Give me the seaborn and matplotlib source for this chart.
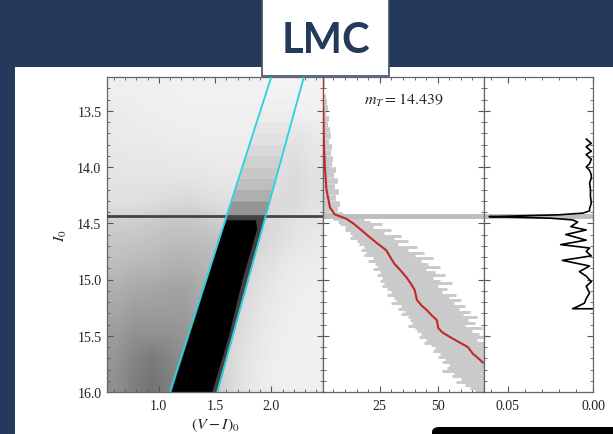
import numpy as np
import seaborn as sns
import matplotlib.pyplot as plt
from matplotlib.patches import Rectangle, FancyBboxPatch
from matplotlib.ticker import MultipleLocator, FormatStrFormatter

# TRGB value
m_trgb = 14.439

# CMD background field: grey level (0 white .. 1 black), rows = I0 bins 13.2..16.0 (0.2), cols = colour bins 0.54..2.46 (0.16)
field_dark = [
    [0.13, 0.13, 0.12, 0.12, 0.11, 0.11, 0.11, 0.11, 0.11, 0.10, 0.10, 0.10],
    [0.15, 0.14, 0.13, 0.13, 0.12, 0.12, 0.12, 0.12, 0.12, 0.12, 0.12, 0.12],
    [0.16, 0.15, 0.15, 0.14, 0.14, 0.13, 0.13, 0.13, 0.15, 0.16, 0.18, 0.16],
    [0.17, 0.17, 0.17, 0.16, 0.16, 0.15, 0.15, 0.15, 0.17, 0.20, 0.22, 0.18],
    [0.19, 0.19, 0.19, 0.19, 0.19, 0.18, 0.17, 0.17, 0.20, 0.22, 0.24, 0.20],
    [0.21, 0.21, 0.22, 0.24, 0.25, 0.23, 0.21, 0.21, 0.22, 0.24, 0.24, 0.20],
    [0.30, 0.30, 0.32, 0.34, 0.34, 0.32, 0.30, 0.28, 0.26, 0.24, 0.20, 0.18],
    [0.34, 0.35, 0.36, 0.38, 0.38, 0.38, 0.36, 0.30, 0.26, 0.22, 0.18, 0.16],
    [0.38, 0.40, 0.40, 0.42, 0.42, 0.40, 0.36, 0.28, 0.22, 0.18, 0.15, 0.14],
    [0.42, 0.44, 0.45, 0.46, 0.46, 0.42, 0.34, 0.26, 0.20, 0.16, 0.14, 0.13],
    [0.45, 0.48, 0.48, 0.48, 0.48, 0.42, 0.32, 0.24, 0.18, 0.15, 0.13, 0.12],
    [0.48, 0.52, 0.52, 0.52, 0.50, 0.40, 0.30, 0.22, 0.17, 0.14, 0.12, 0.12],
    [0.50, 0.56, 0.60, 0.56, 0.52, 0.40, 0.28, 0.20, 0.16, 0.13, 0.12, 0.12],
    [0.52, 0.58, 0.62, 0.58, 0.52, 0.40, 0.28, 0.20, 0.15, 0.13, 0.12, 0.12],
]

# selection box (cyan lines)
cyan_mag = [13.2, 16.0]
cyan_blue = [2.00, 1.10]
cyan_red = [2.29, 1.52]

# stars inside the box above the tip
strip_edges = [13.2, 13.3, 13.4, 13.5, 13.6, 13.7, 13.8, 13.9, 14.0, 14.1, 14.2, 14.3, 14.44]
strip_dark = [0.10, 0.11, 0.13, 0.15, 0.18, 0.21, 0.25, 0.29, 0.33, 0.37, 0.42, 0.50]
below_dark = 0.80

# saturated RGB
band_mag = [14.47, 14.55, 15.0, 15.5, 16.0]
band_blue = [1.60, 1.57, 1.43, 1.27, 1.11]
band_red = [1.86, 1.87, 1.74, 1.62, 1.47]

# luminosity function: noisy bins (grey) and smoothed (red)
gray_mag_top = np.round(np.arange(13.225, 14.43, 0.05), 3)
gray_lo_top = [0] * 24 + [1]
gray_hi_top = [1.2, 1.5, 1.0, 1.8, 2.2, 2.5, 2.0, 3.0, 2.6, 3.4, 4.0, 3.2, 4.6, 3.8, 5.0, 4.4,
               6.0, 5.2, 6.8, 5.6, 7.4, 6.2, 8.0, 7.0, 9.0]
gray_mag_low = np.round(np.arange(14.46, 16.0, 0.025), 3)
gray_lo_low = [5, 7, 8, 10, 10, 12, 13, 12, 15, 16, 18, 17, 19, 18, 22, 20, 23, 24, 22, 25,
               24, 26, 25, 27, 26, 28, 30, 28, 31, 32, 30, 34, 33, 36, 34, 37, 38, 39, 37, 40,
               41, 43, 42, 45, 44, 47, 49, 48, 51, 50, 53, 52, 55, 54, 52, 57, 56, 60, 58, 62,
               64, 66]
gray_hi_low = [18, 21, 26, 22, 30, 27, 34, 31, 37, 33, 41, 37, 44, 40, 48, 43, 46, 51, 45, 49,
               53, 48, 51, 56, 50, 54, 52, 58, 55, 60, 57, 62, 59, 64, 61, 67, 63, 66, 62, 69,
               65, 68, 70, 67, 70, 70, 70, 70, 70, 70, 70, 70, 70, 70, 70, 70, 70, 70, 70, 70,
               70, 70]
lf_mag = [13.20, 13.40, 13.60, 13.80, 14.00, 14.20, 14.36, 14.42, 14.46, 14.50, 14.56, 14.62,
          14.68, 14.74, 14.80, 14.86, 14.92, 14.98, 15.04, 15.09, 15.14, 15.18, 15.23, 15.27,
          15.32, 15.36, 15.40, 15.43, 15.47, 15.51, 15.56, 15.60, 15.66, 15.70, 15.74]
lf_count = [0.4, 0.5, 0.7, 0.9, 1.3, 2.0, 3.5, 5.5, 10.5, 13.5, 17.0, 20.4, 24.0, 27.8, 29.5,
            31.3, 34.0, 36.5, 38.5, 40.0, 40.6, 41.0, 43.0, 45.2, 47.5, 49.6, 50.0, 50.2, 52.0,
            55.2, 59.5, 63.0, 65.2, 67.5, 69.6]

# edge detector response
edge_mag = [13.75, 13.79, 13.82, 13.86, 13.89, 13.93, 13.97, 14.00, 14.03, 14.07, 14.10, 14.14,
            14.20, 14.26, 14.32, 14.37, 14.39, 14.41, 14.425, 14.435, 14.441, 14.447, 14.455,
            14.47, 14.49, 14.53, 14.56, 14.60, 14.65, 14.69, 14.72, 14.75, 14.79, 14.83, 14.88,
            14.93, 14.97, 15.02, 15.06, 15.12, 15.17, 15.21, 15.24, 15.26, 15.26]
edge_resp = [0.004, 0.001, 0.004, 0.001, 0.004, 0.001, 0.002, 0.004, 0.002, 0.001, 0.001, 0.002,
             0.0015, 0.0015, 0.001, 0.002, 0.002, 0.006, 0.020, 0.045, 0.061, 0.045, 0.025,
             0.012, 0.009, 0.013, 0.004, 0.016, 0.004, 0.019, 0.002, 0.004, 0.001, 0.018, 0.002,
             0.008, 0.004, 0.001, 0.004, 0.002, 0.004, 0.005, 0.009, 0.012, 0.0]

navy = '#253a5a'
cyan = '#27d4dd'

sns.set_style('ticks')
plt.rcParams['font.family'] = ['Liberation Serif', 'DejaVu Serif']
plt.rcParams['mathtext.fontset'] = 'stix'

fig = plt.figure(figsize=(6.13, 4.35), dpi=100, facecolor=navy)
W, H = 613, 435

# white slide area
fig.add_artist(Rectangle((15 / W, 0), 1, (H - 68) / H, transform=fig.transFigure,
                         facecolor='white', edgecolor='none', zorder=-1))

bottom = 1 - 393 / H
height = 315 / H
ax1 = fig.add_axes([107 / W, bottom, 216 / W, height])
ax2 = fig.add_axes([323 / W, bottom, 161 / W, height])
ax3 = fig.add_axes([484 / W, bottom, 109 / W, height])

# --- CMD ---
ax1.imshow(field_dark, extent=(0.54, 2.46, 16.0, 13.2), cmap='Greys', vmin=0, vmax=1,
           interpolation='bilinear', aspect='auto', zorder=0)
for i in range(len(strip_dark)):
    m = [strip_edges[i], strip_edges[i + 1]]
    ax1.fill_betweenx(m, np.interp(m, cyan_mag, cyan_blue), np.interp(m, cyan_mag, cyan_red),
                      color=plt.cm.Greys(strip_dark[i]), lw=0, zorder=1)
m = [m_trgb, 16.0]
ax1.fill_betweenx(m, np.interp(m, cyan_mag, cyan_blue), np.interp(m, cyan_mag, cyan_red),
                  color=plt.cm.Greys(below_dark), lw=0, zorder=1)
ax1.fill_betweenx(band_mag, band_blue, band_red, color='black', lw=0, zorder=2)
ax1.axhline(m_trgb, color='#444444', lw=2, zorder=3)
sns.lineplot(x=cyan_blue, y=cyan_mag, color=cyan, lw=1.3, sort=False, estimator=None, ax=ax1, zorder=4)
sns.lineplot(x=cyan_red, y=cyan_mag, color=cyan, lw=1.3, sort=False, estimator=None, ax=ax1, zorder=4)
ax1.set_xlim(0.54, 2.46)
ax1.set_ylim(16.0, 13.2)
ax1.xaxis.set_major_locator(MultipleLocator(0.5))
ax1.xaxis.set_minor_locator(MultipleLocator(0.1))
ax1.xaxis.set_major_formatter(FormatStrFormatter('%.1f'))
ax1.set_xlabel(r'$(V-I)_0$', fontsize=11.5, labelpad=3)
ax1.set_ylabel(r'$I_0$', fontsize=11.5, labelpad=6)

# --- luminosity function ---
ax2.hlines(gray_mag_top, gray_lo_top, gray_hi_top, color='#c9c9c9', lw=4, zorder=1)
ax2.hlines(gray_mag_low, gray_lo_low, gray_hi_low, color='#c9c9c9', lw=2.1, zorder=1)
ax2.axhline(m_trgb, color='#bdbdbd', lw=3.5, zorder=2)
sns.lineplot(x=lf_count, y=lf_mag, color='#c0282d', lw=1.5, sort=False, estimator=None, ax=ax2, zorder=3)
ax2.set_xlim(0.5, 70)
ax2.set_ylim(16.0, 13.2)
ax2.xaxis.set_major_locator(MultipleLocator(25))
ax2.xaxis.set_minor_locator(MultipleLocator(5))
ax2.text(0.5, 0.93, r'$m_T = 14.439$', transform=ax2.transAxes, ha='center', va='center',
         fontsize=11.5)

# --- edge detector ---
ax3.axhline(m_trgb, color='#bdbdbd', lw=3.5, zorder=1)
sns.lineplot(x=edge_resp, y=edge_mag, color='black', lw=1.2, sort=False, estimator=None, ax=ax3, zorder=2)
ax3.set_xlim(0.064, 0.0)
ax3.set_ylim(16.0, 13.2)
ax3.xaxis.set_major_locator(MultipleLocator(0.05))
ax3.xaxis.set_minor_locator(MultipleLocator(0.01))
ax3.xaxis.set_major_formatter(FormatStrFormatter('%.2f'))

for ax in (ax1, ax2, ax3):
    ax.set_facecolor('white')
    ax.yaxis.set_major_locator(MultipleLocator(0.5))
    ax.yaxis.set_minor_locator(MultipleLocator(0.1))
    ax.tick_params(which='both', direction='in', top=True, right=True, color='#555555',
                   labelsize=10, labelcolor='#222222')
    ax.tick_params(which='major', length=4, width=0.8)
    ax.tick_params(which='minor', length=2, width=0.6)
    ax.tick_params(axis='x', pad=5)
    ax.tick_params(axis='y', pad=4)
    for s in ax.spines.values():
        s.set_color('#666666')
        s.set_linewidth(0.9)
for ax in (ax2, ax3):
    ax.tick_params(labelleft=False)
    ax.set_ylabel('')
    ax.set_xlabel('')

# title box
fig.add_artist(Rectangle((262 / W, 1 - 77 / H), 127 / W, 77 / H, transform=fig.transFigure,
                         facecolor='white', edgecolor='#3e5070', lw=1.2, zorder=5))
fig.text((262 + 63.5) / W, 1 - 53 / H, 'LMC', ha='center', va='baseline', fontsize=30,
         fontweight='bold', family=['Lato', 'DejaVu Sans'], color=navy, zorder=6)

# black box at bottom right
fig.add_artist(FancyBboxPatch((432 / W, -0.05), 0.4, 0.05 + 7 / H,
                              boxstyle='round,pad=0,rounding_size=0.012',
                              transform=fig.transFigure, facecolor='black', edgecolor='none',
                              zorder=5))

fig.savefig('out.png', dpi=100, facecolor=fig.get_facecolor())
